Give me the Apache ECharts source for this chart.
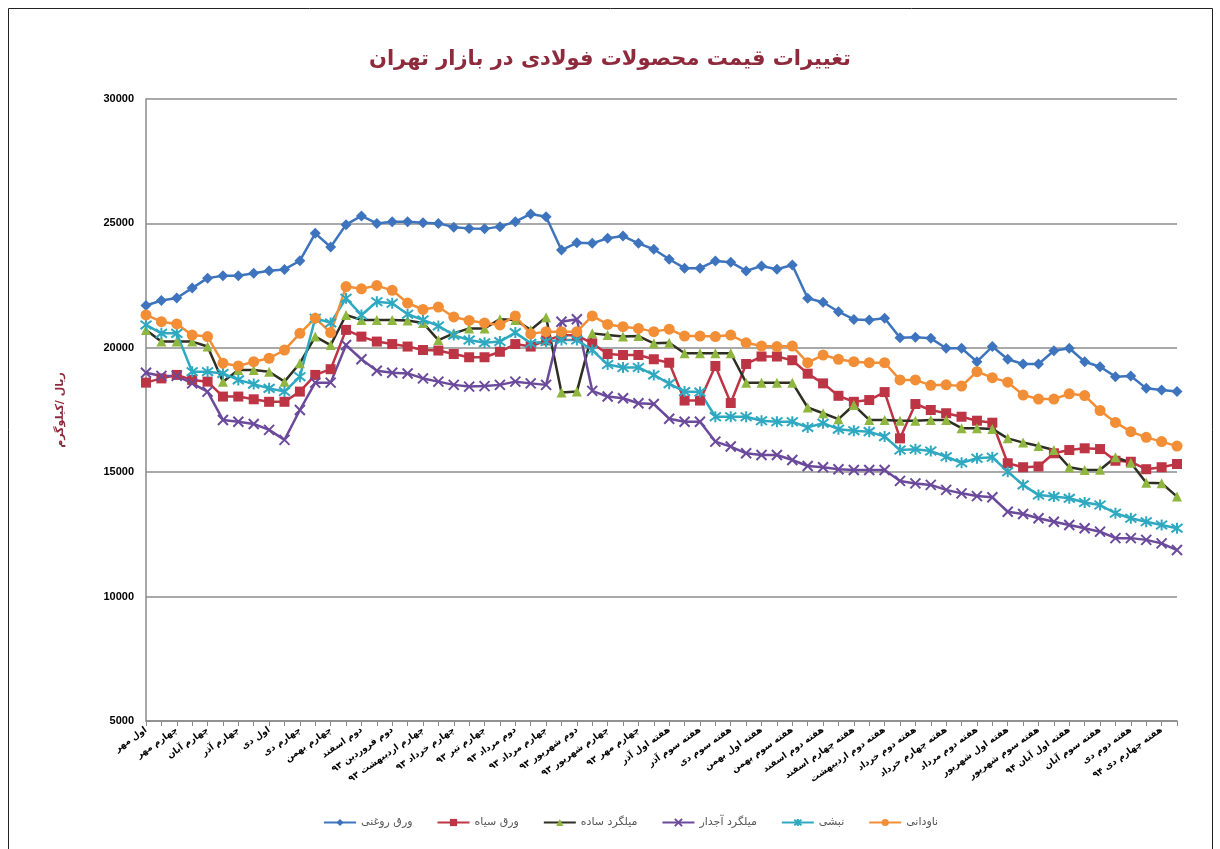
<!DOCTYPE html>
<html>
<head>
<meta charset="utf-8">
<script src="https://cdn.jsdelivr.net/npm/echarts@6/dist/echarts.min.js"></script>
<style>
  html, body { margin: 0; padding: 0; background: #fff; }
  #steelChart { width: 1220px; height: 849px; }
</style>
</head>
<body>
<div id="steelChart"></div>
<script>
var dom = document.getElementById("steelChart");
var myChart;

// برچسب هفته ها (فقط اندیس های زوج نمایش داده می شوند)
var weeks = [
    'اول مهر', 'دوم مهر', 'چهارم مهر', 'دوم آبان', 'چهارم آبان', 'دوم آذر', 'چهارم آذر', 'دوم آذر ۲',
    'اول دی', 'سوم دی', 'چهارم دی', 'دوم بهمن', 'چهارم بهمن', 'اول اسفند', 'دوم اسفند', 'چهارم اسفند',
    'دوم فروردین ۹۳', 'اول اردیبهشت ۹۳', 'چهارم اردیبهشت ۹۳', 'دوم خرداد ۹۳', 'چهارم خرداد ۹۳', 'دوم تیر ۹۳',
    'چهارم تیر ۹۳', 'اول مرداد ۹۳', 'دوم مرداد ۹۳', 'سوم مرداد ۹۳', 'چهارم مرداد ۹۳', 'اول شهریور ۹۳',
    'دوم شهریور ۹۳', 'سوم شهریور ۹۳', 'چهارم شهریور ۹۳', 'دوم مهر ۹۳', 'چهارم مهر ۹۳', 'هفته دوم آبان',
    'هفته اول آذر', 'هفته دوم آذر', 'هفته سوم آذر', 'هفته اول دی', 'هفته سوم دی', 'هفته چهارم دی',
    'هفته اول بهمن', 'هفته دوم بهمن', 'هفته سوم بهمن', 'هفته اول اسفند', 'هفته دوم اسفند', 'هفته سوم اسفند',
    'هفته چهارم اسفند', 'هفته اول اردیبهشت', 'هفته دوم اردیبهشت', 'هفته اول خرداد', 'هفته دوم خرداد', 'هفته سوم خرداد',
    'هفته چهارم خرداد', 'هفته اول مرداد', 'هفته دوم مرداد', 'هفته سوم مرداد', 'هفته اول شهریور', 'هفته دوم شهریور',
    'هفته سوم شهریور', 'هفته اول مهر', 'هفته اول آبان ۹۴', 'هفته دوم آبان ۹۴', 'هفته سوم آبان', 'هفته اول آذر ۹۴',
    'هفته دوم دی', 'هفته سوم دی ۹۴', 'هفته چهارم دی ۹۴', 'هفته اول بهمن ۹۴'
];

var seriesNames = ['ورق روغنی', 'ورق سیاه', 'میلگرد ساده', 'میلگرد آجدار', 'نبشی', 'ناودانی'];

var oilSheet = [21700, 21900, 22000, 22400, 22800, 22900, 22900, 23000, 23100, 23150,
    23500, 24600, 24050, 24950, 25300, 25000, 25070, 25070, 25030, 25000,
    24850, 24800, 24780, 24870, 25070, 25380, 25270, 23930, 24220, 24200,
    24400, 24490, 24200, 23960, 23560, 23200, 23200, 23490, 23440, 23090,
    23290, 23160, 23330, 21990, 21830, 21450, 21140, 21120, 21190, 20400,
    20420, 20380, 19980, 19980, 19440, 20050, 19540, 19350, 19350, 19880,
    19980, 19440, 19240, 18840, 18870, 18370, 18300, 18240];

var blackSheet = [18600, 18770, 18910, 18710, 18640, 18040, 18040, 17930, 17830, 17830,
    18240, 18910, 19140, 20720, 20450, 20250, 20150, 20050, 19910, 19890,
    19750, 19620, 19620, 19840, 20150, 20050, 20300, 20500, 20500, 20180,
    19750, 19710, 19710, 19540, 19400, 17880, 17880, 19270, 17780, 19350,
    19650, 19650, 19500, 18960, 18570, 18070, 17830, 17900, 18220, 16360,
    17740, 17500, 17370, 17230, 17070, 16990, 15360, 15200, 15230, 15760,
    15890, 15960, 15930, 15460, 15420, 15120, 15200, 15330];

var plainRebar = [20720, 20250, 20250, 20250, 20050, 18640, 19110, 19110, 19040, 18640,
    19380, 20450, 20110, 21320, 21120, 21120, 21120, 21100, 21000, 20310,
    20580, 20780, 20780, 21150, 21120, 20720, 21230, 18200, 18240, 20580,
    20510, 20450, 20470, 20180, 20200, 19780, 19780, 19780, 19780, 18600,
    18600, 18600, 18600, 17600, 17370, 17130, 17700, 17100, 17100, 17070,
    17070, 17100, 17100, 16770, 16770, 16740, 16360, 16190, 16050, 15890,
    15200, 15090, 15100, 15600, 15380, 14580, 14560, 14020];

var ribbedRebar = [19000, 18870, 18870, 18570, 18240, 17100, 17030, 16940, 16700, 16300,
    17500, 18600, 18600, 20110, 19540, 19080, 19000, 18970, 18770, 18640,
    18510, 18440, 18460, 18510, 18640, 18570, 18510, 21050, 21150, 18270,
    18040, 17970, 17770, 17740, 17150, 17030, 17030, 16230, 16030, 15760,
    15690, 15690, 15490, 15250, 15200, 15120, 15090, 15090, 15090, 14650,
    14550, 14490, 14290, 14150, 14040, 13990, 13410, 13320, 13150, 13010,
    12880, 12750, 12610, 12350, 12350, 12280, 12140, 11870];

var angleBar = [20920, 20580, 20580, 19040, 19040, 18970, 18710, 18540, 18370, 18240,
    18840, 21190, 21000, 21990, 21320, 21850, 21790, 21350, 21120, 20880,
    20510, 20310, 20200, 20250, 20610, 20180, 20250, 20310, 20310, 19910,
    19330, 19210, 19210, 18910, 18560, 18240, 18220, 17230, 17230, 17230,
    17070, 17030, 17030, 16800, 16970, 16730, 16670, 16630, 16430, 15890,
    15920, 15850, 15620, 15380, 15560, 15600, 15020, 14490, 14080, 14020,
    13950, 13780, 13680, 13350, 13150, 13010, 12880, 12750];

var channel = [21320, 21050, 20960, 20510, 20450, 19380, 19270, 19440, 19580, 19910,
    20580, 21190, 20610, 22460, 22370, 22500, 22310, 21800, 21540, 21640,
    21240, 21100, 21000, 20920, 21280, 20560, 20650, 20650, 20650, 21280,
    20940, 20850, 20780, 20650, 20750, 20470, 20470, 20450, 20510, 20200,
    20070, 20050, 20070, 19400, 19710, 19540, 19440, 19400, 19400, 18710,
    18710, 18490, 18510, 18460, 19040, 18800, 18620, 18100, 17940, 17940,
    18150, 18080, 17480, 17000, 16630, 16400, 16230, 16050];

var seriesValues = [oilSheet, blackSheet, plainRebar, ribbedRebar, angleBar, channel];
var markerColors = ['#3d74bd', '#bd3445', '#8fb63f', '#6b4a9c', '#2fa9c0', '#f28e36'];
var lineColors = ['#3d74bd', '#bd3445', '#2e2e22', '#6b4a9c', '#2fa9c0', '#f28e36'];
var symbols = [
    'diamond',
    'rect',
    'triangle',
    'path://M0,0L10,10M10,0L0,10',
    'path://M0,0L10,10M10,0L0,10M5,-1.5L5,11.5',
    'circle'
];
var symbolSizes = [11, 10, 10, 10, 11, 11];

var series = [];
for (var i = 0; i < seriesNames.length; i++) {
    var isPath = symbols[i].indexOf('path://') === 0;
    series.push({
        name: seriesNames[i],
        type: 'line',
        data: seriesValues[i],
        symbol: symbols[i],
        symbolSize: symbolSizes[i],
        showAllSymbol: true,
        lineStyle: { color: lineColors[i], width: 2.5 },
        itemStyle: isPath ? {
            color: markerColors[i],
            borderColor: markerColors[i],
            borderWidth: 2
        } : {
            color: markerColors[i]
        },
        emphasis: { disabled: true },
        animation: false
    });
}

var option = {
    backgroundColor: '#ffffff',
    textStyle: { fontFamily: 'DejaVu Sans' },
    title: {
        text: 'تغییرات قیمت محصولات فولادی در بازار تهران',
        left: 'center',
        top: 44,
        textStyle: {
            color: '#8f2a3c',
            fontSize: 21,
            fontWeight: 'bold',
            fontFamily: 'DejaVu Sans'
        }
    },
    graphic: [{
        type: 'rect',
        shape: { x: 8.5, y: 8.5, width: 1204, height: 860 },
        style: { fill: 'none', stroke: '#222', lineWidth: 1 },
        silent: true
    }],
    legend: {
        data: seriesNames,
        left: 318,
        top: 812,
        itemWidth: 32,
        itemHeight: 9,
        itemGap: 24,
        textStyle: { color: '#555', fontSize: 11, fontFamily: 'DejaVu Sans' }
    },
    grid: {
        left: 146,
        right: 43,
        top: 99,
        bottom: 128
    },
    xAxis: {
        type: 'category',
        data: weeks,
        boundaryGap: false,
        axisLine: { lineStyle: { color: '#8a8a8a', width: 1.5 } },
        axisTick: { show: true, interval: 0, length: 5, lineStyle: { color: '#8a8a8a' } },
        axisLabel: {
            interval: 1,
            rotate: 35,
            margin: 8,
            color: '#000',
            fontSize: 9,
            fontWeight: 'bold',
            fontFamily: 'DejaVu Sans'
        },
        splitLine: { show: false }
    },
    yAxis: {
        type: 'value',
        min: 5000,
        max: 30000,
        interval: 5000,
        name: 'ریال /کیلوگرم',
        nameLocation: 'middle',
        nameRotate: 90,
        nameGap: 80,
        nameTextStyle: {
            color: '#8f2a3c',
            fontSize: 11,
            fontWeight: 'bold',
            fontFamily: 'DejaVu Sans'
        },
        axisLine: { show: true, lineStyle: { color: '#8a8a8a', width: 1.5 } },
        axisTick: { show: false },
        axisLabel: {
            color: '#000',
            fontSize: 11,
            fontWeight: 'bold',
            margin: 12,
            fontFamily: 'Liberation Sans',
            formatter: function (v) { return String(v); }
        },
        splitLine: { lineStyle: { color: '#8c8c8c', width: 1.5 } }
    },
    series: series
};

myChart = echarts.init(dom);
if (option && typeof option === "object") {
    myChart.setOption(option, true);
}
</script>
</body>
</html>
